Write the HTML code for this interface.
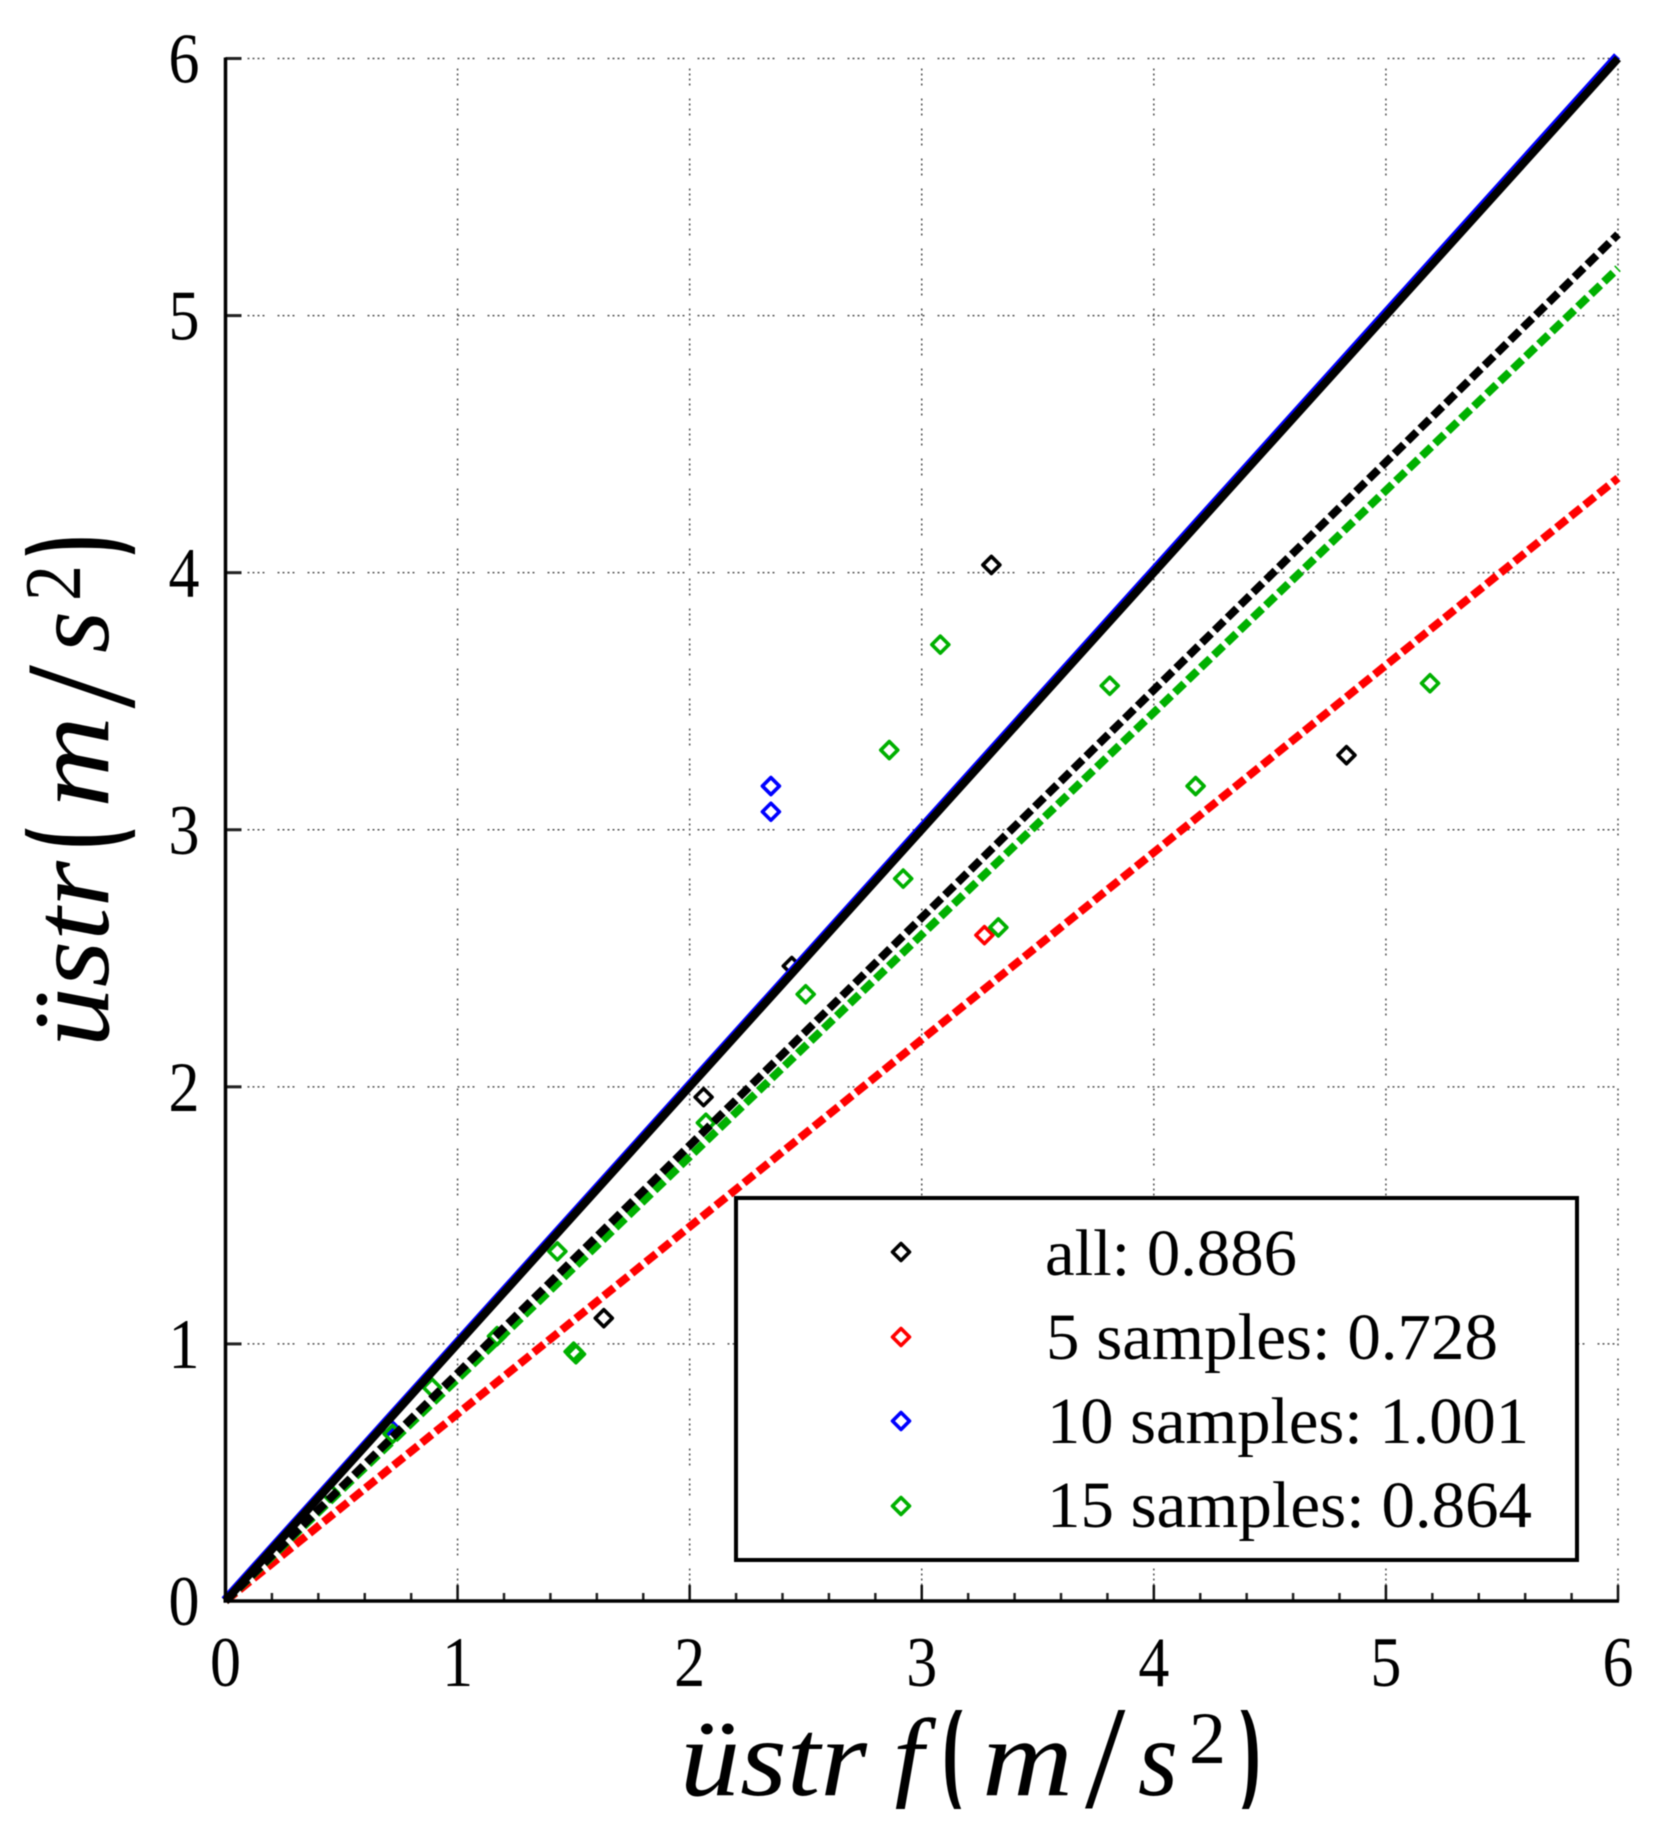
<!DOCTYPE html>
<html lang="en">
<head>
<meta charset="utf-8">
<title>Regression scatter chart</title>
<style>
html,body{margin:0;padding:0;background:#fff;width:1665px;height:1836px;overflow:hidden}
svg{display:block;font-family:"Liberation Serif",serif;filter:blur(.45px)}
</style>
</head>
<body>
<svg id="chart" width="1665" height="1836" viewBox="0 0 1665 1836" xmlns="http://www.w3.org/2000/svg">
  <defs>
    <clipPath id="xclip"><rect x="600" y="1710" width="720" height="99"/></clipPath>
    <clipPath id="yclip"><rect x="25" y="500" width="110" height="580"/></clipPath>
  </defs>
  <rect width="1665" height="1836" fill="#fff"/>
  <g id="grid"></g>
  <g id="points"></g>
  <g id="lines"></g>
  <g id="axes"></g>

  <g clip-path="url(#xclip)" fill="#000">
    <text x="680" y="1795" font-size="110" font-style="italic" textLength="187" lengthAdjust="spacingAndGlyphs">üstr</text>
    <text x="893" y="1795" font-size="110" font-style="italic">f</text>
    <text x="941" y="1797" font-size="150" textLength="33" lengthAdjust="spacingAndGlyphs">(</text>
    <text x="982" y="1795" font-size="110" font-style="italic" textLength="91" lengthAdjust="spacingAndGlyphs">m</text>
    <text x="1085" y="1807" font-size="150" textLength="41" lengthAdjust="spacingAndGlyphs">/</text>
    <text x="1138" y="1795" font-size="110" font-style="italic" textLength="40" lengthAdjust="spacingAndGlyphs">s</text>
    <text x="1189" y="1763" font-size="74" textLength="37" lengthAdjust="spacingAndGlyphs">2</text>
    <text x="1229" y="1797" font-size="150" textLength="33" lengthAdjust="spacingAndGlyphs">)</text>
  </g>

  <g clip-path="url(#yclip)" fill="#000">
    <g transform="translate(108,1047) rotate(-90)">
      <text x="0" y="0" font-size="110" font-style="italic" textLength="186" lengthAdjust="spacingAndGlyphs">üstr</text>
      <text x="197" y="13" font-size="165" textLength="33" lengthAdjust="spacingAndGlyphs">(</text>
      <text x="239" y="0" font-size="110" font-style="italic" textLength="92" lengthAdjust="spacingAndGlyphs">m</text>
      <text x="338" y="27" font-size="160" textLength="44" lengthAdjust="spacingAndGlyphs">/</text>
      <text x="394" y="0" font-size="110" font-style="italic" textLength="42" lengthAdjust="spacingAndGlyphs">s</text>
      <text x="446" y="-28" font-size="80" textLength="36" lengthAdjust="spacingAndGlyphs">2</text>
      <text x="480" y="13" font-size="165" textLength="33" lengthAdjust="spacingAndGlyphs">)</text>
    </g>
  </g>

  <g>
    <rect x="736" y="1198" width="841" height="362" fill="#fff" stroke="#000" stroke-width="4"/>
    <g id="legend-markers"></g>
    <text x="1045" y="1275" font-size="66" textLength="252" lengthAdjust="spacingAndGlyphs">all: 0.886</text>
    <text x="1046" y="1359" font-size="66" textLength="452" lengthAdjust="spacingAndGlyphs">5 samples: 0.728</text>
    <text x="1047" y="1443" font-size="66" textLength="482" lengthAdjust="spacingAndGlyphs">10 samples: 1.001</text>
    <text x="1047" y="1527" font-size="66" textLength="485" lengthAdjust="spacingAndGlyphs">15 samples: 0.864</text>
  </g>
</svg>

<script>
const xTickLabels = ["0","1","2","3","4","5","6"];
const yTickLabels = ["0","1","2","3","4","5","6"];
const slopeRed = 0.728;
const slopeBlue = 1.001;
const slopeGreen = 0.864;
const slopeBlack = 0.886;
const identitySlope = 1;
const domainMax = 6;
const allX = [3.30,4.83,2.44,2.06,1.63];
const allY = [4.03,3.29,2.47,1.96,1.10];
const fiveX = [3.27];
const fiveY = [2.59];
const tenX = [2.35,2.35,0.70];
const tenY = [3.17,3.07,0.68];
const fifteenX = [3.08,2.86,3.81,5.19,4.18,2.92,3.33,2.50,2.07,1.43,1.51,1.50,1.17,0.89,0.72,0.45];
const fifteenY = [3.72,3.31,3.56,3.57,3.17,2.81,2.62,2.36,1.86,1.36,0.96,0.97,1.03,0.83,0.65,0.42];

const NS = "http://www.w3.org/2000/svg";
const X0 = 225.5, X1 = 1618, Y0 = 1601, Y1 = 58.5;
function sx(v){ return X0 + (X1 - X0) * v / domainMax; }
function sy(v){ return Y0 - (Y0 - Y1) * v / domainMax; }
function mk(parent, tag, attrs){
  const el = document.createElementNS(NS, tag);
  for (const k in attrs) el.setAttribute(k, attrs[k]);
  parent.appendChild(el);
  return el;
}
const gridG = document.getElementById("grid");
const axesG = document.getElementById("axes");
const linesG = document.getElementById("lines");
const pointsG = document.getElementById("points");
const legendG = document.getElementById("legend-markers");
const gridDash = "2 3 2 3 2 3 2 13";

yTickLabels.forEach(function(lab){
  const v = Number(lab);
  if (v > 0) {
    const g = mk(gridG, "line", {x1:X0+22, x2:X1, y1:sy(v), y2:sy(v), stroke:"#555", "stroke-width":1.5, "stroke-dasharray":gridDash});
    
    
  }
  const t = mk(axesG, "line", {x1:X0, x2:X0+16, y1:sy(v), y2:sy(v), stroke:"#222", "stroke-width":3});
  
  
  const l = mk(axesG, "text", {x:184, y:sy(v)+24, "font-size":71, "text-anchor":"middle", textLength:31, lengthAdjust:"spacingAndGlyphs"});
  
  
  l.textContent = lab;
});
xTickLabels.forEach(function(lab){
  const v = Number(lab);
  if (v > 0) {
    const g = mk(gridG, "line", {x1:sx(v), x2:sx(v), y1:Y1+10, y2:Y0-16, stroke:"#555", "stroke-width":1.5, "stroke-dasharray":gridDash});
    
    
  }
  const t = mk(axesG, "line", {x1:sx(v), x2:sx(v), y1:Y0, y2:Y0-16, stroke:"#111", "stroke-width":2.5});
  
  
  const l = mk(axesG, "text", {x:sx(v), y:1686, "font-size":71, "text-anchor":"middle", textLength:31, lengthAdjust:"spacingAndGlyphs"});
  
  
  l.textContent = lab;
});
for (let i = 1; i < 30; i++) {
  if (i % 5 === 0) continue;
  const v = i / 5;
  const m = mk(axesG, "line", {x1:sx(v), x2:sx(v), y1:Y0, y2:Y0-8, stroke:"#222", "stroke-width":2.5});
  
  
}
const xAxis = mk(axesG, "line", {x1:X0-2, x2:X1+1, y1:Y0, y2:Y0, stroke:"#000", "stroke-width":3.5});


const yAxis = mk(axesG, "line", {x1:X0, x2:X0, y1:Y0+1, y2:Y1-1, stroke:"#000", "stroke-width":3.5});



function drawFit(slope, color, width, dash, name, dx, dy){
  const a = {x1:sx(0)+dx, y1:sy(0)+dy, x2:sx(domainMax)+dx, y2:sy(slope*domainMax)+dy, stroke:color, "stroke-width":width};
  if (dash) a["stroke-dasharray"] = dash;
  const l = mk(linesG, "line", a);
  
  
}
function drawMarker(parent, cx, cy, color, name){
  const r = 8.5;
  const pts = [[cx,cy-r],[cx+r,cy],[cx,cy+r],[cx-r,cy]].map(function(p){ return p[0]+","+p[1]; }).join(" ");
  const d = mk(parent, "polygon", {points:pts, fill:"none", stroke:color, "stroke-width":3.6, "stroke-linejoin":"round"});
  
  
}
const GREEN = "#00b000", RED = "#ff0000", BLUE = "#0000ff", BLACK = "#000000";
function drawSeries(xs, ys, color, name){
  xs.forEach(function(x, i){ drawMarker(pointsG, sx(x), sy(ys[i]), color, name); });
}
drawSeries(allX, allY, BLACK, "point-all");
drawSeries(fiveX, fiveY, RED, "point-5-samples");
drawSeries(tenX, tenY, BLUE, "point-10-samples");
drawSeries(fifteenX, fifteenY, GREEN, "point-15-samples");

drawFit(slopeRed, RED, 8, "13 5", "fit-line-5-samples", 0, 0);
drawFit(slopeGreen, GREEN, 8, "13 5", "fit-line-15-samples", 0, 0);
drawFit(slopeBlack, BLACK, 8, "13 5", "fit-line-all", 0, 0);
drawFit(slopeBlue, BLUE, 8, null, "fit-line-10-samples", -1, -1);
drawFit(identitySlope, BLACK, 8, null, "identity-line", 0, 0);

drawMarker(legendG, 901, 1252, BLACK, "legend-marker-all");
drawMarker(legendG, 901, 1337, RED, "legend-marker-5-samples");
drawMarker(legendG, 901, 1421, BLUE, "legend-marker-10-samples");
drawMarker(legendG, 901, 1506, GREEN, "legend-marker-15-samples");
</script>
</body>
</html>
